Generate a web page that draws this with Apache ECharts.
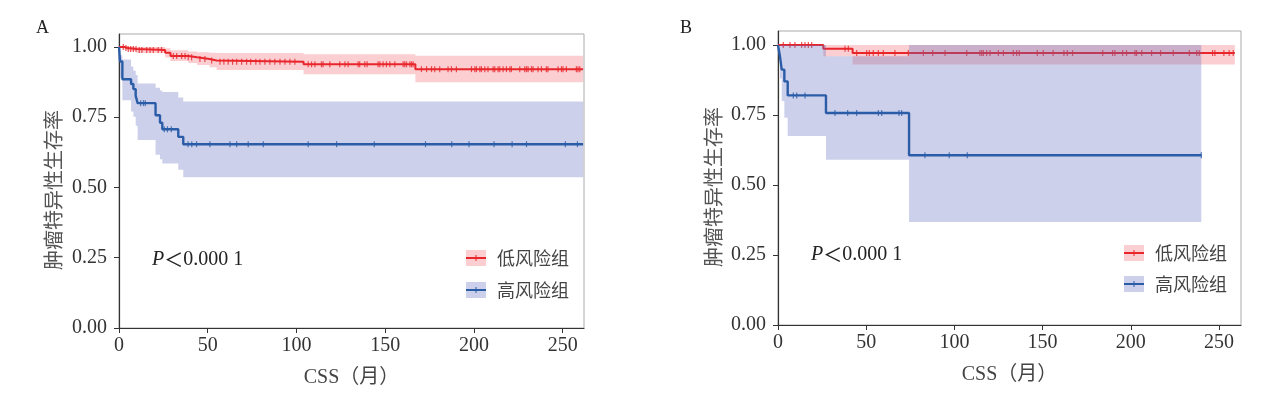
<!DOCTYPE html>
<html><head><meta charset="utf-8">
<script src="https://cdn.jsdelivr.net/npm/echarts@6/dist/echarts.min.js"></script>
<style>html,body{margin:0;padding:0;background:#fff}#c{width:1268px;height:394px}</style>
</head><body><div id="c"></div>
<script>
// ---------- data ----------
const xTicks = [0, 50, 100, 150, 200, 250];
const yTicks = [0, 0.25, 0.5, 0.75, 1];
const groupNames = ['低风险组', '高风险组'];
const panelLabels = ['A', 'B'];
const xTitle = 'CSS（月）';
const yTitle = '肿瘤特异性生存率';
const pValue = '0.000 1';

// Panel A – low risk
const aLowTime  = [0, 3, 5, 10, 26, 29, 39, 44, 51, 55, 104, 167, 261.5];
const aLowSurv  = [1, 0.996, 0.993, 0.989, 0.979, 0.968, 0.963, 0.957, 0.952, 0.947, 0.938, 0.921, 0.921];
const aLowLower = [1, 0.99, 0.985, 0.978, 0.962, 0.95, 0.943, 0.936, 0.928, 0.918, 0.903, 0.874, 0.874];
const aLowUpper = [1, 1, 1, 1, 0.995, 0.988, 0.984, 0.981, 0.979, 0.978, 0.974, 0.969, 0.969];
const aLowCensor = [2.4, 3.9, 5.2, 6.6, 8.1, 9.6, 11.4, 12.9, 15.6, 17.5, 19.3, 22.1, 24.0, 30.6, 32.5, 35.3, 37.2, 39.0, 40.9,
  45.6, 48.4, 52.2, 56.9, 59.1, 61.5, 64, 66.3, 69.1, 71.9, 74.2, 77.1, 79.4, 82.2, 85, 87.8, 90.7, 93.5, 96.3, 99.1,
  106.6, 108.5, 110.4, 114.1, 115.0, 118.8, 124.4, 127.3, 129.1, 134.7, 135.6, 138.5, 139.8, 146, 147, 148.8, 150.7,
  152.6, 155.4, 160.1, 161, 162, 163.9, 164.8, 165.7, 170.4, 173.3, 176.1, 177.9, 180.7, 185.4, 187.3, 190.1, 198.6,
  200.5, 201.4, 203.3, 204.2, 206.1, 207.9, 210.8, 211.7, 213.6, 214.5, 216.4, 218.3, 220.2, 221.1, 225.8, 228.6,
  229.6, 230.5, 232.4, 233.3, 236.1, 238, 240.8, 241.7, 247.4, 249.3, 250.2, 252.1, 257.7, 258.6, 259.6];

// Panel A – high risk
const aHighTime  = [0, 0.6, 1.9, 6.8, 8.1, 9.4, 10.5, 20.6, 23.1, 24.4, 33.4, 36.2, 261.5];
const aHighSurv  = [1, 0.948, 0.885, 0.868, 0.85, 0.826, 0.80, 0.757, 0.73, 0.707, 0.68, 0.654, 0.654];
const aHighLower = [1, 0.89, 0.81, 0.77, 0.752, 0.72, 0.669, 0.616, 0.60, 0.585, 0.563, 0.536, 0.536];
const aHighUpper = [1, 0.97, 0.955, 0.93, 0.915, 0.90, 0.87, 0.855, 0.845, 0.84, 0.82, 0.806, 0.806];
const aHighCensor = [12.2, 13.8, 14.8, 25.5, 27.3, 29.5, 38.9, 41, 43.7, 51.2, 62.5, 66.3, 72.8, 81.3, 106.6, 122.6,
  143.8, 172.7, 187.5, 197.2, 211.3, 221.5, 229.6, 251.5, 258.3];

// Panel B – low risk
const bLowTime  = [0, 25.7, 42.3, 259];
const bLowSurv  = [1, 0.987, 0.971, 0.971];
const bLowLower = [1, 0.96, 0.93, 0.93];
const bLowUpper = [1, 1, 1, 1];
const bLowCensor = [3, 6.8, 9.6, 13.4, 15.3, 17.2, 19.1, 38, 39.9, 44.6, 50.3, 51.8, 54, 56.9, 59.7, 66.3, 73.9, 82.4,
  87.7, 94.7, 107, 114.5, 115.5, 116.4, 118.3, 120.2, 124.9, 127.8, 133.4, 135.3, 136.8, 147, 150.4, 156, 162.1, 164,
  167, 184.1, 189.7, 191, 195.4, 197.6, 202.4, 203.3, 206.2, 211.8, 216.9, 224.1, 233.2, 237.4, 238.8, 246.4, 247.7,
  252.8, 255.8, 258.1];

// Panel B – high risk
const bHighTime  = [0, 1.1, 2.1, 3.6, 5.5, 27.2, 74.3, 240];
const bHighSurv  = [1, 0.96, 0.912, 0.87, 0.82, 0.757, 0.606, 0.606];
const bHighLower = [1, 0.88, 0.80, 0.74, 0.675, 0.59, 0.368, 0.368];
const bHighUpper = [1, 1, 1, 1, 1, 0.96, 1, 1];
const bHighCensor = [8.7, 10.6, 15.3, 32.3, 39.5, 44.6, 56.9, 58.8, 68.6, 70.1, 83.3, 97.1, 107.3, 240];

// ---------- styling / layout ----------
const RED = '#e8262b', BLUE = '#2a5ca8';
const RED_BAND = 'rgba(240,60,70,0.25)', BLUE_BAND = 'rgba(100,110,190,0.32)';
const SERIF = "'Liberation Serif','Noto Sans CJK SC',serif";
const CJK = "'Noto Sans CJK SC',sans-serif";

const panels = [
  {grid:{left:119, top:34, width:465, height:294}, xMax:262, yMax:1.046,
   low:[aLowTime,aLowSurv,aLowLower,aLowUpper,aLowCensor], high:[aHighTime,aHighSurv,aHighLower,aHighUpper,aHighCensor],
   label:[36,28], yTitle:[53,190], pText:[152,260], legend:{x:466, rows:[258,290]}},
  {grid:{left:778, top:31, width:463, height:294}, xMax:262.5, yMax:1.05,
   low:[bLowTime,bLowSurv,bLowLower,bLowUpper,bLowCensor], high:[bHighTime,bHighSurv,bHighLower,bHighUpper,bHighCensor],
   label:[680,28], yTitle:[713,187], pText:[811,255], legend:{x:1124, rows:[253,284]}}
];

function survAt(times, surv, t){ let v = surv[0]; for (let i=0;i<times.length;i++){ if (times[i] <= t) v = surv[i]; } return v; }

// step-shaped confidence ribbon, drawn as one polygon through the axes' coordinate system
function bandRenderer(T, L, U, fill){
  return function(params, api){
    if (params.dataIndex !== 0) return null;
    const pts = [];
    for (let k=0;k<T.length-1;k++){ pts.push(api.coord([T[k], U[k]])); pts.push(api.coord([T[k+1], U[k]])); }
    for (let k=T.length-2;k>=0;k--){ pts.push(api.coord([T[k+1], L[k]])); pts.push(api.coord([T[k], L[k]])); }
    return {type:'polygon', shape:{points:pts}, style:{fill:fill}};
  };
}

const grids=[], xAxes=[], yAxes=[], series=[], graphics=[];
panels.forEach((p, i) => {
  grids.push(Object.assign({show:true, borderColor:'#aaa', borderWidth:1, backgroundColor:'transparent'}, p.grid));
  xAxes.push({type:'value', gridIndex:i, min:0, max:p.xMax,
    name:xTitle, nameLocation:'middle', nameGap:40,
    nameTextStyle:{fontFamily:SERIF, fontSize:20, color:'#444'},
    axisLine:{show:true, onZero:false, lineStyle:{color:'#333', width:1.2}},
    axisTick:{show:true, length:5, customValues:xTicks, lineStyle:{color:'#333'}},
    axisLabel:{customValues:xTicks, margin:8, fontFamily:SERIF, fontSize:20, color:'#333'},
    splitLine:{show:false}});
  yAxes.push({type:'value', gridIndex:i, min:0, max:p.yMax,
    axisLine:{show:true, onZero:false, lineStyle:{color:'#333', width:1.2}},
    axisTick:{show:true, length:5, customValues:yTicks, lineStyle:{color:'#333'}},
    axisLabel:{customValues:yTicks, margin:12, fontFamily:SERIF, fontSize:20, color:'#333',
      formatter: v => v.toFixed(2)},
    splitLine:{show:false}});

  const groups = [[p.low, RED, RED_BAND, groupNames[0]], [p.high, BLUE, BLUE_BAND, groupNames[1]]];
  groups.forEach(([g, col, band, nm], gi) => {
    const [T, S, L, U, C] = g;
    const zb = gi*3 + 1;
    series.push({type:'custom', xAxisIndex:i, yAxisIndex:i, silent:true, clip:true,
      data:T.map((t,k)=>[t, L[k], U[k]]), encode:{x:0, y:[1,2]},
      renderItem: bandRenderer(T, L, U, band), z:zb});
    series.push({type:'line', xAxisIndex:i, yAxisIndex:i, step:'end', silent:true, name:nm,
      data:T.map((t,k)=>[t, S[k]]), showSymbol:false, symbol:'none',
      lineStyle:{color:col, width: gi===0 ? 2 : 2.4}, z:zb+1});
    series.push({type:'scatter', xAxisIndex:i, yAxisIndex:i, silent:true,
      data:C.map(t=>[t, survAt(T, S, t)]), symbol:'rect', symbolSize:[1.2, 6],
      itemStyle:{color:col}, z:zb+2});
  });

  graphics.push({type:'text', x:p.label[0], y:p.label[1], style:{text:panelLabels[i], font:"18px "+SERIF, fill:'#222', align:'left', verticalAlign:'middle'}});
  graphics.push({type:'text', x:p.yTitle[0], y:p.yTitle[1], rotation:Math.PI/2,
    style:{text:yTitle, font:"20px "+CJK, fill:'#555', align:'center', verticalAlign:'middle'}});
  graphics.push({type:'text', x:p.pText[0], y:p.pText[1],
    style:{text:'{p|P}{lt|＜}{n|'+pValue+'}', align:'left', verticalAlign:'middle',
      rich:{p:{fontFamily:SERIF, fontStyle:'italic', fontSize:20, fill:'#222'},
            lt:{fontFamily:CJK, fontSize:19, fill:'#222'},
            n:{fontFamily:SERIF, fontSize:20, fill:'#222'}}}});
  const lg = p.legend;
  [[RED, RED_BAND], [BLUE, BLUE_BAND]].forEach(([col, band], k) => {
    const cy = lg.rows[k];
    graphics.push({type:'rect', shape:{x:lg.x, y:cy-8, width:20, height:16}, style:{fill:band}});
    graphics.push({type:'line', shape:{x1:lg.x, y1:cy, x2:lg.x+20, y2:cy}, style:{stroke:col, lineWidth:2}});
    graphics.push({type:'line', shape:{x1:lg.x+10, y1:cy-3, x2:lg.x+10, y2:cy+3}, style:{stroke:col, lineWidth:1}});
    graphics.push({type:'text', x:lg.x+31, y:cy, style:{text:groupNames[k], font:"18px "+CJK, fill:'#444', align:'left', verticalAlign:'middle'}});
  });
});

const chart = echarts.init(document.getElementById('c'), null, {renderer:'canvas'});
chart.setOption({
  animation:false,
  backgroundColor:'#fff',
  grid:grids, xAxis:xAxes, yAxis:yAxes, series:series,
  graphic:{elements:graphics}
});
</script>
</body></html>
